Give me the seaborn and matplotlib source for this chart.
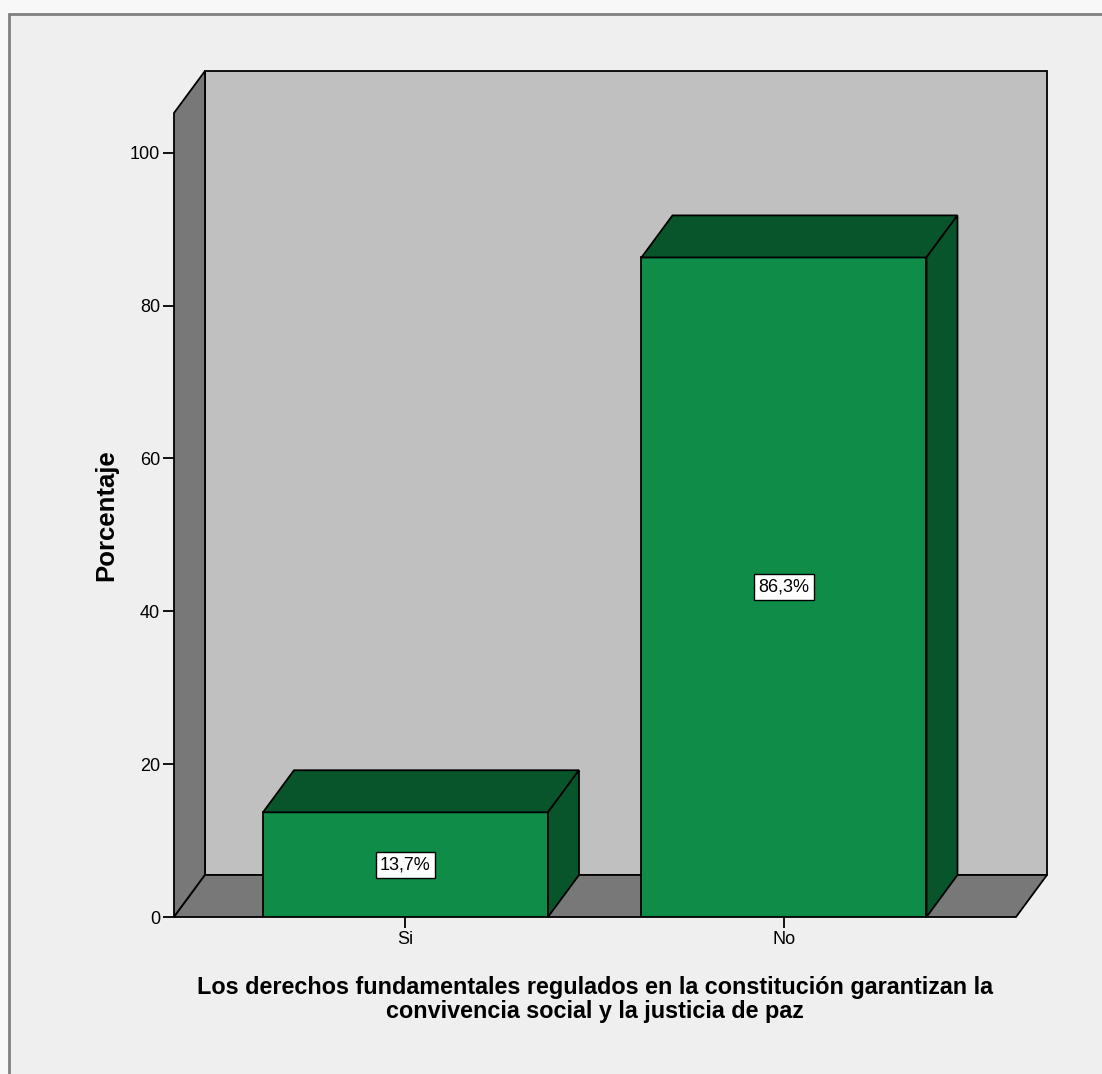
import matplotlib
matplotlib.use("Agg")
import matplotlib.pyplot as plt
from matplotlib.patches import Polygon, Rectangle
import seaborn as sns

# datos
categorias = ["Si", "No"]
porcentajes = [13.7, 86.3]
etiquetas = ["13,7%", "86,3%"]
y_ticks = [0, 20, 40, 60, 80, 100]
titulo_x = ("Los derechos fundamentales regulados en la constitución garantizan la\n"
            "convivencia social y la justicia de paz")
titulo_y = "Porcentaje"

verde = "#0f8c47"
verde_osc = "#08552b"
gris_fondo = "#c0c0c0"
gris_osc = "#787878"

sns.set_style("white")
plt.rcParams["font.family"] = ["Liberation Sans", "DejaVu Sans"]
plt.rcParams["text.color"] = "black"
plt.rcParams["axes.labelcolor"] = "black"
plt.rcParams["xtick.color"] = "black"
plt.rcParams["ytick.color"] = "black"

fig = plt.figure(figsize=(11.02, 10.74), dpi=100, facecolor="#f8f8f8")
# marco exterior (solo se ven borde superior e izquierdo)
fig.patches.append(Rectangle((9 / 1102, -0.1), 1.2, 1 - 14 / 1074 + 0.1,
                             transform=fig.transFigure, facecolor="#efefef",
                             edgecolor="#808080", linewidth=2, zorder=-10))

ax = fig.add_axes([174 / 1102, 157 / 1074, 842 / 1102, 804 / 1074])
ax.set_facecolor("none")

sns.barplot(x=categorias, y=porcentajes, color=verde, saturation=1,
            width=0.753, edgecolor="black", linewidth=1.3, ax=ax, zorder=5)

x0, x1 = -0.6116, 1.613
ytop = 105.2
dx, dy = 0.0819, 5.5
ax.set_xlim(x0, x1)
ax.set_ylim(0, ytop)

kw = dict(edgecolor="black", linewidth=1.3, clip_on=False, joinstyle="miter")
# pared trasera
ax.add_patch(Polygon([(x0 + dx, dy), (x1 + dx, dy), (x1 + dx, ytop + dy), (x0 + dx, ytop + dy)],
                     facecolor=gris_fondo, zorder=1, **kw))
# pared izquierda
ax.add_patch(Polygon([(x0, 0), (x0, ytop), (x0 + dx, ytop + dy), (x0 + dx, dy)],
                     facecolor=gris_osc, zorder=2, **kw))
# suelo
ax.add_patch(Polygon([(x0, 0), (x1, 0), (x1 + dx, dy), (x0 + dx, dy)],
                     facecolor=gris_osc, zorder=2, **kw))

# caras superior y lateral de cada barra
for bar, etq in zip(ax.patches[:len(categorias)], etiquetas):
    bx, bw, bh = bar.get_x(), bar.get_width(), bar.get_height()
    ax.add_patch(Polygon([(bx, bh), (bx + bw, bh), (bx + bw + dx, bh + dy), (bx + dx, bh + dy)],
                         facecolor=verde_osc, zorder=6, **kw))
    ax.add_patch(Polygon([(bx + bw, 0), (bx + bw, bh), (bx + bw + dx, bh + dy), (bx + bw + dx, dy)],
                         facecolor=verde_osc, zorder=6, **kw))
    ax.text(bx + bw / 2, bh / 2, etq, ha="center", va="center", fontsize=13, zorder=8,
            bbox=dict(boxstyle="square,pad=0.25", facecolor="white", edgecolor="black", linewidth=1))

for s in ax.spines.values():
    s.set_visible(False)

ax.set_yticks(y_ticks)
ax.set_yticklabels([str(t) for t in y_ticks])
ax.tick_params(axis="both", which="both", direction="out", length=8, width=1.3,
               color="black", labelsize=13, left=True, bottom=True, pad=2)

ax.set_xlabel(titulo_x, fontsize=16.8, fontweight="bold", labelpad=20, linespacing=1.05)
ax.set_ylabel(titulo_y, fontsize=18.5, fontweight="bold", labelpad=8)

fig.savefig("out.png", dpi=100, facecolor=fig.get_facecolor())
